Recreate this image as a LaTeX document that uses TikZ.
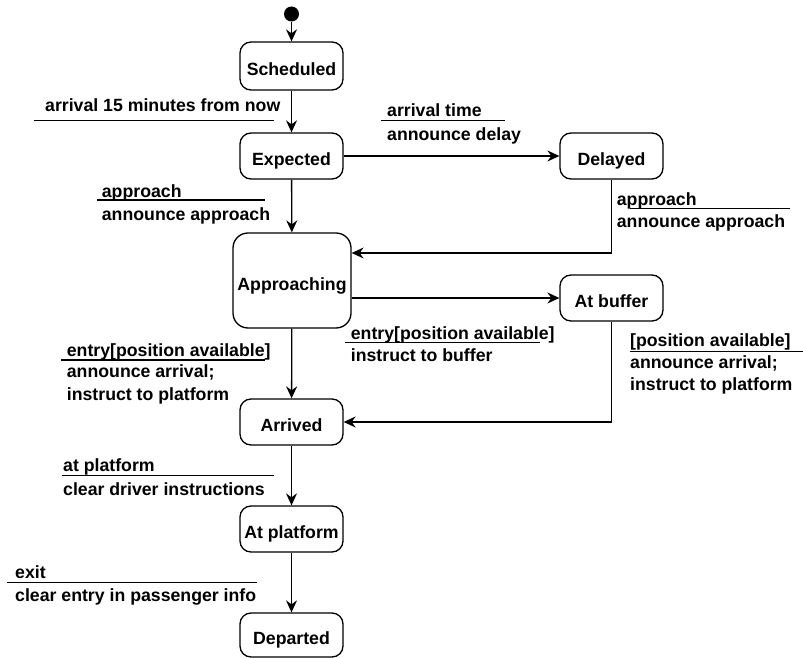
\documentclass[tikz,border=0pt]{standalone}
\usepackage{fontspec}
\setmainfont{Liberation Sans}
\usetikzlibrary{arrows.meta,calc}
\begin{document}
\begin{tikzpicture}[x=1pt,y=-1pt,
  state/.style={draw,line width=1.3pt,rounded corners=11pt,minimum width=103pt,minimum height=46pt,inner sep=0pt,text height=19pt,text depth=0pt,font=\fontsize{17.7}{22}\selectfont\bfseries},
  lbl/.style={anchor=base west,inner sep=0pt,font=\fontsize{17.7}{22}\selectfont\bfseries},
  conn/.style={line width=1.3pt,-{Stealth[length=12pt,width=11pt,inset=4pt]}},
  uline/.style={line width=1.3pt}]
\useasboundingbox (0,0) rectangle (803,658);
% states
\node[circle,fill=black,minimum size=15pt,inner sep=0pt] (init) at (291.5,14) {};
\node[state,minimum height=48pt] (sched) at (291.5,66) {Scheduled};
\node[state] (exp) at (291.5,156) {Expected};
\node[state] (del) at (611.5,156) {Delayed};
\node[state,minimum width=118pt,minimum height=95pt,rounded corners=15pt] (appr) at (292,280.5) {Approaching};
\node[state] (buf) at (611.5,298) {At buffer};
\node[state] (arr) at (291.5,422) {Arrived};
\node[state] (plat) at (291.5,529) {At platform};
\node[state,minimum height=44pt] (dep) at (291.5,635) {Departed};
% connectors
\draw[conn] (init) -- (sched);
\draw[conn] (sched) -- (exp);
\draw[conn] (exp) -- (del);
\draw[conn] (exp) -- (appr);
\draw[conn] (del.south) |- ([yshift=27.5pt]appr.east);
\draw[conn] (buf.west -| appr.east) -- (buf.west);
\draw[conn] (appr) -- (arr);
\draw[conn] (buf.south) |- (arr.east);
\draw[conn] (arr) -- (plat);
\draw[conn] (plat) -- (dep);
% labels
\node[lbl] (t1) at (45,112) {arrival 15 minutes from now};
\draw[uline] (34,120.7) -- (274,120.7);
\node[lbl] (t2a) at (101.7,197) {approach};
\draw[uline] (96.7,200) -- (265,200);
\node[lbl] (t2b) at (101.7,220) {announce approach};
\node[lbl] (t3a) at (387,116.7) {arrival time};
\draw[uline] (381,120.7) -- (505,120.7);
\node[lbl] (t3b) at (387,140) {announce delay};
\node[lbl] (t4a) at (616.7,205) {approach};
\draw[uline] (630,208.3) -- (790,208.3);
\node[lbl] (t4b) at (616.7,227) {announce approach};
\node[lbl] (t5a) at (350.7,339.3) {entry[position available]};
\draw[uline] (345,342.7) -- (540,342.7);
\node[lbl] (t5b) at (350.7,361) {instruct to buffer};
\node[lbl] (t6a) at (630,346.7) {[position available]};
\draw[uline] (630,351.7) -- (803,351.7);
\node[lbl] (t6b) at (630,368.5) {announce arrival;};
\node[lbl] (t6c) at (630,390.7) {instruct to platform};
\node[lbl] (t7a) at (66.7,356) {entry[position available]};
\draw[uline] (61,360) -- (265,360);
\node[lbl] (t7b) at (66.7,377.7) {announce arrival;};
\node[lbl] (t7c) at (66.7,400.7) {instruct to platform};
\node[lbl] (t8a) at (63,471.7) {at platform};
\draw[uline] (61.7,475.7) -- (274,475.7);
\node[lbl] (t8b) at (63,495) {clear driver instructions};
\node[lbl] (t9a) at (15,578.3) {exit};
\draw[uline] (7.3,582.7) -- (256.7,582.7);
\node[lbl] (t9b) at (15,601.7) {clear entry in passenger info};
\end{tikzpicture}
\end{document}
